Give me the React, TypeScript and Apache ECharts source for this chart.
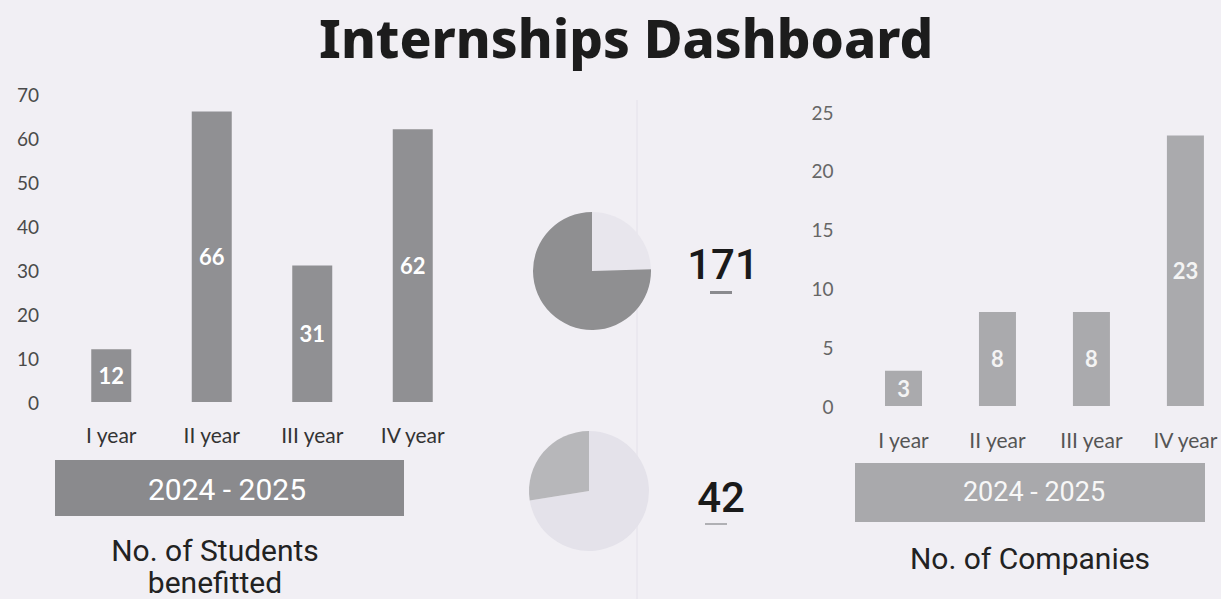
import React, { useEffect, useRef } from "react";
import * as echarts from "echarts";

const categories = ["I year", "II year", "III year", "IV year"];
const studentsValues = [12, 66, 31, 62];
const companiesValues = [3, 8, 8, 23];
const studentsTotal = 171;
const companiesTotal = 42;
const studentsPie = [24.5, 75.5]; // light, dark (clockwise from 12 o'clock)
const companiesPie = [72.5, 27.5];
const periodLabel = "2024 - 2025";

export default function App() {
  const ref = useRef<HTMLDivElement>(null);
  useEffect(() => {
    document.body.style.margin = "0";
    const chart = echarts.init(ref.current!, null, { renderer: "svg" });
    const axisLabelFont = { fontFamily: "Lato", color: "#4a4a4a" };
    chart.setOption({
      animation: false,
      backgroundColor: "#f1eff4",
      title: {
        text: "Internships Dashboard",
        left: 314,
        top: 6,
        textStyle: { fontFamily: "Noto Sans", fontWeight: 800, fontSize: 53, color: "#1c1c1c" },
      },
      grid: [
        { left: 61, right: 758, top: 94, bottom: 197 },
        { left: 903.5, right: 35, top: 112, bottom: 193 },
      ],
      xAxis: [
        {
          gridIndex: 0, type: "category", data: categories,
          axisLine: { show: false }, axisTick: { show: false },
          axisLabel: { ...axisLabelFont, fontSize: 21, color: "#333", margin: 22 },
        },
        {
          gridIndex: 1, type: "category", data: categories, boundaryGap: false,
          axisLine: { show: false }, axisTick: { show: false },
          axisLabel: { ...axisLabelFont, fontSize: 21, color: "#555", margin: 23 },
        },
      ],
      yAxis: [
        {
          gridIndex: 0, type: "value", min: 0, max: 70, interval: 10,
          splitLine: { show: false }, axisLine: { show: false },
          axisLabel: { ...axisLabelFont, fontSize: 19, margin: 22 },
        },
        {
          gridIndex: 1, type: "value", min: 0, max: 25, interval: 5,
          splitLine: { show: false }, axisLine: { show: false },
          axisLabel: { ...axisLabelFont, fontSize: 19, color: "#666", margin: 70 },
        },
      ],
      series: [
        {
          type: "bar", xAxisIndex: 0, yAxisIndex: 0, data: studentsValues, barWidth: 40,
          itemStyle: { color: "#909093" },
          label: { show: true, position: "inside", color: "#fff", fontFamily: "Lato", fontWeight: "bold", fontSize: 22 },
        },
        {
          type: "bar", xAxisIndex: 1, yAxisIndex: 1, data: companiesValues, barWidth: 37,
          itemStyle: { color: "#aaaaad" },
          label: { show: true, position: "inside", color: "#f4f4f4", fontFamily: "Lato", fontWeight: "bold", fontSize: 22 },
        },
        {
          type: "pie", center: [592, 271], radius: 59, startAngle: 90, clockwise: true,
          label: { show: false }, labelLine: { show: false }, silent: true,
          data: [
            { value: studentsPie[0], itemStyle: { color: "#e8e6ed" } },
            { value: studentsPie[1], itemStyle: { color: "#8f8f91" } },
          ],
        },
        {
          type: "pie", center: [589, 491], radius: 60, startAngle: 90, clockwise: true,
          label: { show: false }, labelLine: { show: false }, silent: true,
          data: [
            { value: companiesPie[0], itemStyle: { color: "#e4e2ea" } },
            { value: companiesPie[1], itemStyle: { color: "#b7b7ba" } },
          ],
        },
      ],
      graphic: [
        { type: "line", shape: { x1: 637, y1: 100, x2: 637, y2: 599 }, style: { stroke: "#e4e1ea", lineWidth: 1 }, z: -1 },
        { type: "rect", shape: { x: 55, y: 460, width: 349, height: 56 }, style: { fill: "#8a8a8d" } },
        { type: "text", x: 227, y: 489, style: { text: periodLabel, fill: "#ffffff", font: "30px Roboto", align: "center", verticalAlign: "middle" } },
        { type: "rect", shape: { x: 855, y: 463, width: 350, height: 59 }, style: { fill: "#a9a9ac" } },
        { type: "text", x: 1034, y: 492, style: { text: periodLabel, fill: "#f7f7f7", font: "27px Roboto", align: "center", verticalAlign: "middle" } },
        { type: "text", x: 215, y: 550, style: { text: "No. of Students", fill: "#222", font: "30px Roboto", align: "center", verticalAlign: "middle" } },
        { type: "text", x: 215, y: 582, style: { text: "benefitted", fill: "#222", font: "30px Roboto", align: "center", verticalAlign: "middle" } },
        { type: "text", x: 1030, y: 558, style: { text: "No. of Companies", fill: "#222", font: "30px Roboto", align: "center", verticalAlign: "middle" } },
        { type: "text", x: 723, y: 264, style: { text: String(studentsTotal), fill: "#1a1a1a", font: "500 42px Roboto", align: "center", verticalAlign: "middle" } },
        { type: "rect", shape: { x: 710, y: 291, width: 22, height: 3 }, style: { fill: "#8a8a8e" } },
        { type: "text", x: 721, y: 497, style: { text: String(companiesTotal), fill: "#1a1a1a", font: "500 42px Roboto", align: "center", verticalAlign: "middle" } },
        { type: "rect", shape: { x: 705, y: 523, width: 22, height: 2 }, style: { fill: "#b0b0b4" } },
      ],
    });
    return () => chart.dispose();
  }, []);
  return <div ref={ref} style={{ position: "absolute", left: 0, top: 0, width: 1221, height: 599 }} />;
}
